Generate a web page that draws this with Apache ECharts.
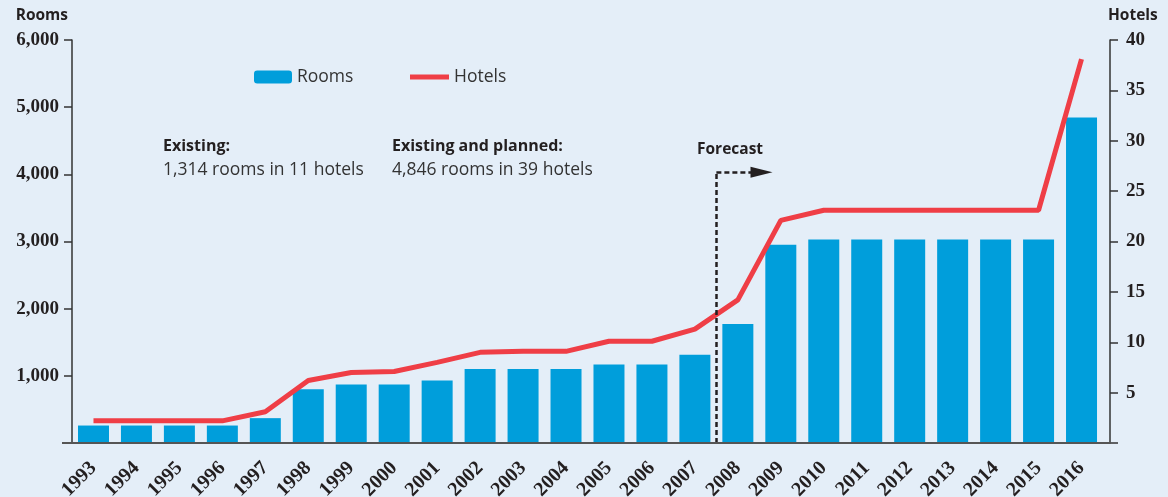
<!DOCTYPE html>
<html>
<head>
<meta charset="utf-8">
<script src="https://cdn.jsdelivr.net/npm/echarts@6/dist/echarts.min.js"></script>
<style>
html,body{margin:0;padding:0;background:#E4EEF8;}
#c{width:1168px;height:497px;}
</style>
</head>
<body>
<div id="c"></div>
<script>
var years = ['1993','1994','1995','1996','1997','1998','1999','2000','2001','2002','2003','2004','2005','2006','2007','2008','2009','2010','2011','2012','2013','2014','2015','2016'];
var rooms = [260,260,260,260,370,800,870,870,930,1100,1100,1100,1170,1170,1314,1770,2950,3030,3030,3030,3030,3030,3030,4846];
var hotels = [2.2,2.2,2.2,2.2,3.1,6.2,7.0,7.1,8.0,9.0,9.1,9.1,10.1,10.1,11.3,14.2,22.1,23.1,23.1,23.1,23.1,23.1,23.1,38.1];
var roomTicks = [0,1000,2000,3000,4000,5000,6000];
var hotelTicks = [0,5,10,15,20,25,30,35,40];
// forecast divider between 2007 and 2008 (category index 14.5), up to 4030 rooms, arrow to 15.55
var forecastX = 14.5, forecastTop = 4030, forecastArrowEnd = 15.55;

var serif = '"Liberation Serif", "DejaVu Serif", serif';
var sans = '"Open Sans", "Noto Sans", sans-serif';
var dark = '#231F20';

var chart = echarts.init(document.getElementById('c'));
chart.setOption({
  backgroundColor: '#E4EEF8',
  animation: false,
  grid: {left: 72, right: 65, top: 40, bottom: 54, containLabel: false, outerBoundsMode: 'none'},
  legend: [
    {data: ['Rooms'], left: 254, top: 68, padding: 0, itemWidth: 38, itemHeight: 13, itemGap: 0,
     textStyle: {fontFamily: sans, fontSize: 17.5, color: '#333'}},
    {data: [{name: 'Hotels', icon: 'rect'}], left: 410, top: 68, padding: 0, itemWidth: 39, itemHeight: 5, itemGap: 0,
     textStyle: {fontFamily: sans, fontSize: 17.5, color: '#333'}}
  ],
  xAxis: [
    {type: 'category', data: years, boundaryGap: true, position: 'bottom',
     axisLine: {show: false}, axisTick: {show: false},
     axisLabel: {show: true, interval: 0, rotate: 45, margin: 22, hideOverlap: false, fontFamily: serif, fontWeight: 'bold', fontSize: 20, color: dark}},
    {type: 'value', min: -0.5, max: 23.5, show: false, position: 'top'}
  ],
  yAxis: [
    {type: 'value', min: 0, max: 6000, interval: 1000, position: 'left',
     name: 'Rooms', nameLocation: 'end', nameGap: 16,
     nameTextStyle: {fontFamily: sans, fontWeight: 'bold', fontSize: 15.5, color: dark, align: 'right', padding: [0, 4, 0, 0]},
     splitLine: {show: false},
     axisLine: {show: true, onZero: false, lineStyle: {color: '#333', width: 1.5}},
     axisTick: {show: true, length: 8, lineStyle: {color: '#333', width: 1.5}},
     axisLabel: {margin: 13, fontFamily: serif, fontWeight: 'bold', fontSize: 19, color: dark,
       formatter: function (v) { return v === 0 ? '' : v.toLocaleString('en-US'); }}},
    {type: 'value', min: 0, max: 40, interval: 5, position: 'right', offset: 7,
     name: 'Hotels', nameLocation: 'end', nameGap: 16,
     nameTextStyle: {fontFamily: sans, fontWeight: 'bold', fontSize: 15.5, color: dark, align: 'left', padding: [0, 0, 0, -2]},
     splitLine: {show: false},
     axisLine: {show: true, onZero: false, lineStyle: {color: '#333', width: 1.5}},
     axisTick: {show: true, length: 8, lineStyle: {color: '#333', width: 1.5}},
     axisLabel: {margin: 16, fontFamily: serif, fontWeight: 'bold', fontSize: 19, color: dark,
       formatter: function (v) { return v === 0 ? '' : String(v); }}}
  ],
  series: [
    {name: 'Rooms', type: 'bar', data: rooms, barWidth: 31, itemStyle: {color: '#009EDB'}, z: 2},
    {name: 'Hotels', type: 'line', yAxisIndex: 1, data: hotels, symbol: 'none',
     lineStyle: {color: '#EF3E46', width: 5}, itemStyle: {color: '#EF3E46'}, z: 4},
    {name: 'forecast', type: 'line', xAxisIndex: 1, yAxisIndex: 0, data: [], z: 5,
     markLine: {silent: true, animation: false, label: {show: false},
       lineStyle: {color: dark, width: 2.5, type: [5, 3]},
       data: [
         [{coord: [forecastX, 0], symbol: 'none'}, {coord: [forecastX, forecastTop], symbol: 'none'}],
         [{coord: [forecastX, forecastTop], symbol: 'none'}, {coord: [forecastArrowEnd, forecastTop], symbol: 'triangle', symbolSize: [11, 22]}]
       ]}}
  ],
  graphic: [
    {type: 'line', shape: {x1: 62, y1: 443, x2: 1111, y2: 443}, style: {stroke: '#555', lineWidth: 2}, z: 10},
    {type: 'text', left: 163, top: 138, style: {text: 'Existing:', fontFamily: sans, fontWeight: 'bold', fontSize: 16, fill: dark}},
    {type: 'text', left: 163, top: 161, style: {text: '1,314 rooms in 11 hotels', fontFamily: sans, fontSize: 17.5, fill: '#333'}},
    {type: 'text', left: 392, top: 138, style: {text: 'Existing and planned:', fontFamily: sans, fontWeight: 'bold', fontSize: 16, fill: dark}},
    {type: 'text', left: 392, top: 161, style: {text: '4,846 rooms in 39 hotels', fontFamily: sans, fontSize: 17.5, fill: '#333'}},
    {type: 'text', left: 697, top: 142, style: {text: 'Forecast', fontFamily: sans, fontWeight: 'bold', fontSize: 15.5, fill: dark}}
  ]
});
</script>
</body>
</html>
